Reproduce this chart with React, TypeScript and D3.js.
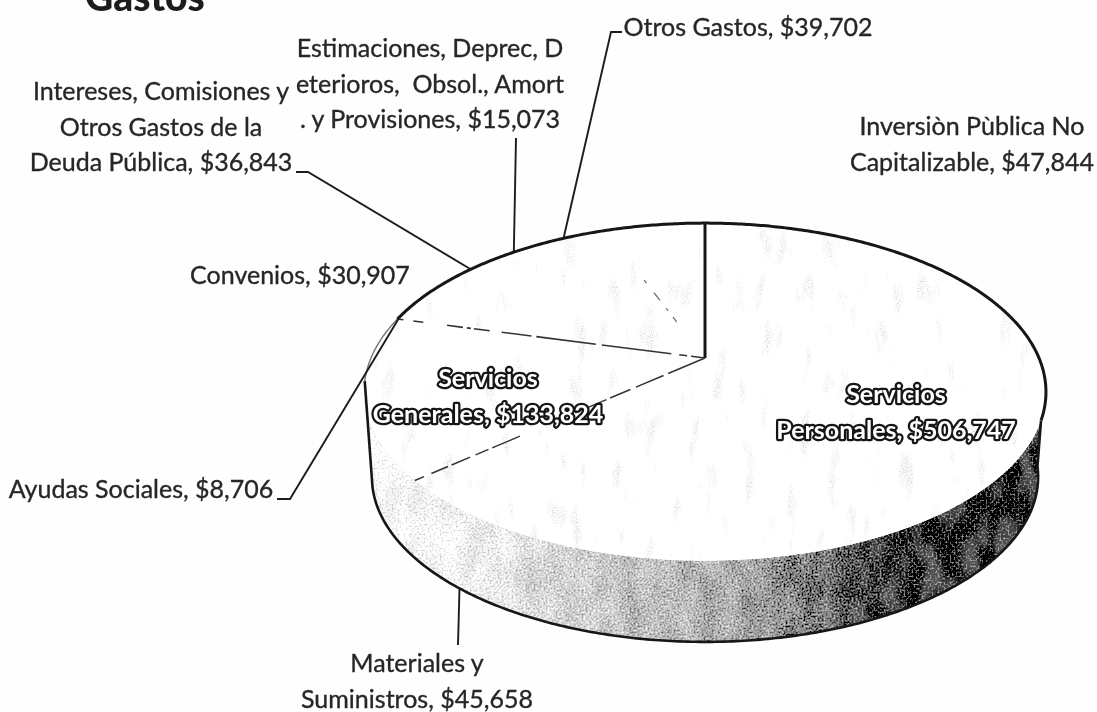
import React from "react"
import * as d3 from "d3"

const categories = [
  "Servicios Personales",
  "Materiales y Suministros",
  "Servicios Generales",
  "Ayudas Sociales",
  "Convenios",
  "Intereses",
  "Estimaciones",
  "Otros Gastos",
  "Inversion",
]
const values = [506747, 45658, 133824, 8706, 30907, 36843, 15073, 39702, 47844]

const labelLines = [
  ["Servicios", "Personales, $506,747"],
  ["Materiales y", "Suministros, $45,658"],
  ["Servicios", "Generales, $133,824"],
  ["Ayudas Sociales, $8,706"],
  ["Convenios, $30,907"],
  ["Intereses, Comisiones y", "Otros Gastos de la", "Deuda Pública, $36,843"],
  ["Estimaciones, Deprec, D", "eterioros,  Obsol., Amort", ". y Provisiones, $15,073"],
  ["Otros Gastos, $39,702"],
  ["Inversiòn Pùblica No", "Capitalizable, $47,844"],
]

// layout only: where each label block sits and where its leader bends
const labelPos = [
  { x: 896, y: 403, inside: true },
  { x: 417, y: 672 },
  { x: 488, y: 387, inside: true },
  { x: 141, y: 498 },
  { x: 300, y: 284 },
  { x: 161, y: 100 },
  { x: 430, y: 57 },
  { x: 748, y: 36 },
  { x: 972, y: 135 },
]
const leaderBend: ([number, number][] | null)[] = [
  null,
  [[458, 645]],
  null,
  [[290, 499], [277, 499]],
  null,
  [[308, 172], [296, 172]],
  [[516, 138]],
  [[611, 32], [622, 32]],
  null,
]

const W = 1097
const H = 712
const cx = 705
const cy = 358
const R = 334
const Ry = 162
const tilt = 0.201 // perspective of the pie top
const ellipseMidY = 392
const wallDrop = 85
const wallScale = 0.977
const lineH = 35.5

const pie = d3.pie<number>().sort(null).startAngle(-0.015).endAngle(2 * Math.PI - 0.015)
const slices = pie(values)

// angle (clockwise from top) -> point on the top face
const project = (a: number, r = 1): [number, number] => {
  const x = Math.sin(a) * r
  const y = -Math.cos(a) * r
  const s = 1 / (1 - tilt * y)
  return [cx + R * x * s, cy + Ry * y * s]
}
// same angle on the lower edge of the wall
const projectBottom = (a: number): [number, number] => {
  const [x, y] = project(a)
  return [cx + (x - cx) * wallScale, ellipseMidY + (y - ellipseMidY) * wallScale + wallDrop]
}

const line = d3.line()
const arcPoints = (a0: number, a1: number, fn = project) => {
  const n = Math.max(2, Math.ceil(Math.abs(a1 - a0) / 0.01))
  return d3.range(n + 1).map((i) => fn(a0 + ((a1 - a0) * i) / n))
}
const deg = (d: number) => (d * Math.PI) / 180

const slicePath = (s: d3.PieArcDatum<number>) =>
  line([[cx, cy], ...arcPoints(s.startAngle, s.endAngle)])! + "Z"

const wallPath =
  line([...arcPoints(deg(111), deg(262)), ...arcPoints(deg(255), deg(98), projectBottom)])! + "Z"
const wallOutline = line([
  project(deg(262)),
  ...arcPoints(deg(255), deg(98), projectBottom),
  project(deg(111)),
])!
const rimOutline = line(arcPoints(slices[2].endAngle, 2 * Math.PI + deg(111)))!
const rimThin = line(arcPoints(deg(262), slices[2].endAngle))!

const wallShade = d3
  .scaleLinear<string>()
  .domain([0, 0.18, 0.34, 0.5, 0.64, 0.74, 0.85, 1])
  .range(["#ffffff", "#eeeeee", "#c8c8c8", "#b4b4b4", "#8c8c8c", "#474747", "#2a2a2a", "#101010"])

const leaderPoints = (i: number): [number, number][] | null => {
  const bend = leaderBend[i]
  if (!bend) return null
  const mid = (slices[i].startAngle + slices[i].endAngle) / 2
  const start = i === 1 ? projectBottom(mid) : project(mid - deg(0.8))
  return [start, ...bend]
}

const font = "Lato, 'Open Sans', sans-serif"

const App = () => {
  const edgeA = project(slices[2].endAngle)
  const edgeB = project(slices[1].endAngle)
  const edgeC = project(slices[7].endAngle)

  return (
    <svg width={W} height={H} style={{ position: "absolute", left: 0, top: 0 }} fontFamily={font}>
      <defs>
        <linearGradient id="wallGrad" gradientUnits="userSpaceOnUse" x1={370} x2={1040} y1={0} y2={0}>
          {d3.range(0, 1.01, 0.05).map((t) => (
            <stop key={t} offset={t} stopColor={wallShade(t)} />
          ))}
        </linearGradient>
        <filter id="scan" x="0" y="0" width={W} height={H} filterUnits="userSpaceOnUse">
          <feGaussianBlur stdDeviation="0.55" />
        </filter>
        <filter id="grain" x="-5%" y="-5%" width="110%" height="110%">
          <feTurbulence type="fractalNoise" baseFrequency="0.5" numOctaves="2" seed="4" result="fine" />
          <feColorMatrix in="fine" type="matrix"
            values="1.6 0 0 0 -0.3  1.6 0 0 0 -0.3  1.6 0 0 0 -0.3  0 0 0 0 1" result="fineG" />
          <feComposite in="SourceGraphic" in2="fineG" operator="arithmetic" k1="0" k2="1" k3="0.75" k4="-0.37" result="grainy" />
          <feTurbulence type="fractalNoise" baseFrequency="0.05 0.025" numOctaves="2" seed="7" result="coarse" />
          <feColorMatrix in="coarse" type="matrix"
            values="1.5 0 0 0 -0.25  1.5 0 0 0 -0.25  1.5 0 0 0 -0.25  0 0 0 0 1" result="coarseG" />
          <feComposite in="grainy" in2="coarseG" operator="arithmetic" k1="0" k2="1" k3="0.26" k4="-0.13" result="mottled" />
          <feComposite in="mottled" in2="SourceAlpha" operator="in" />
        </filter>
        <filter id="flecks" x="0" y="0" width="100%" height="100%">
          <feTurbulence type="fractalNoise" baseFrequency="0.07 0.022" numOctaves="3" seed="11" result="n" />
          <feColorMatrix in="n" type="matrix"
            values="0 0 0 0 0.5  0 0 0 0 0.5  0 0 0 0 0.5  5 0 0 0 -3.1" result="m" />
          <feTurbulence type="fractalNoise" baseFrequency="0.8" numOctaves="1" seed="2" result="f" />
          <feColorMatrix in="f" type="matrix"
            values="0 0 0 0 0  0 0 0 0 0  0 0 0 0 0  3 0 0 0 -1.3" result="fa" />
          <feComposite in="m" in2="fa" operator="in" result="speck" />
          <feComposite in="speck" in2="SourceAlpha" operator="in" />
        </filter>
      </defs>

      <rect width={W} height={H} fill="#fefefe" />
      <g filter="url(#scan)">
        <text x={85} y={11} fontSize={39} fontWeight={900} fill="#1c1c1c">Gastos</text>

        <path d={wallPath} fill="url(#wallGrad)" filter="url(#grain)" />

        {slices.map((s, i) => (
          <path key={categories[i]} d={slicePath(s)} fill="#ffffff" />
        ))}
        <g filter="url(#flecks)" opacity={0.7}>
          {slices.map((s, i) => (
            <path key={categories[i]} d={slicePath(s)} fill="#000" />
          ))}
        </g>

        <path d={wallOutline} fill="none" stroke="#161616" strokeWidth={2.6} />
        <path d={rimOutline} fill="none" stroke="#161616" strokeWidth={3} />
        <path d={rimThin} fill="none" stroke="#777" strokeWidth={1.4} />

        <line x1={cx} y1={cy} x2={project(0)[0]} y2={project(0)[1]} stroke="#161616" strokeWidth={3} />
        <line x1={cx} y1={cy} x2={edgeA[0]} y2={edgeA[1]} stroke="#333" strokeWidth={1.6}
          strokeDasharray="14 4 8 8 70 6 60 5 30 12 16 3 4 4 16 24 10 10" />
        <line x1={cx} y1={cy} x2={edgeB[0]} y2={edgeB[1]} stroke="#333" strokeWidth={1.5}
          strokeDasharray="40 5 30 6 22 4 34 60 30 4 14 6 20 4 18 8 30 3" />
        <line x1={cx} y1={cy} x2={edgeC[0]} y2={edgeC[1]} stroke="#666" strokeWidth={1.2}
          strokeDasharray="0 46 6 8 3 10 10 12 4 300" />

        {slices.map((_, i) => {
          const pts = leaderPoints(i)
          return pts ? (
            <path key={categories[i]} d={line(pts)!} fill="none" stroke="#1c1c1c" strokeWidth={1.9} />
          ) : null
        })}

        {labelLines.map((lines, i) => {
          const p = labelPos[i]
          return (
            <text key={categories[i]} textAnchor="middle" fontSize={p.inside ? 25 : 25}
              fontWeight={p.inside ? 700 : 400}
              fill={p.inside ? "#ffffff" : "#262626"}
              stroke={p.inside ? "#151515" : "#262626"} strokeWidth={p.inside ? 4.6 : 0.35}
              strokeLinejoin="round" paintOrder="stroke">
              {lines.map((t, j) => (
                <tspan key={j} x={p.x} y={p.y + j * lineH} xmlSpace="preserve">{t}</tspan>
              ))}
            </text>
          )
        })}
      </g>
    </svg>
  )
}

export default App
